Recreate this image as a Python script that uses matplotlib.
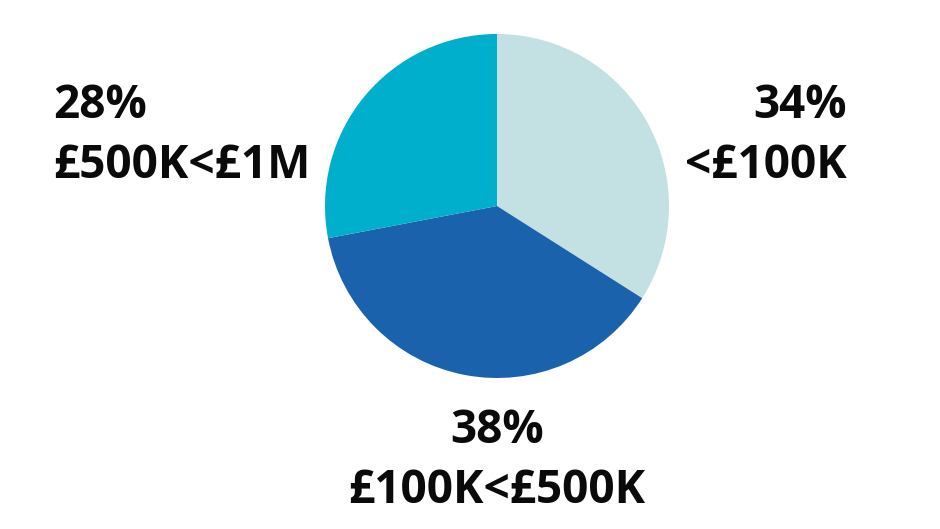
import matplotlib
matplotlib.use("Agg")
import matplotlib.pyplot as plt

categories = ["<£100K", "£100K<£500K", "£500K<£1M"]
values = [34, 38, 28]
colors = ["#C3E0E3", "#1B62AD", "#00AFCB"]

W, H = 940, 529
fig = plt.figure(figsize=(W / 100, H / 100), dpi=100)
ax = fig.add_axes([0, 0, 1, 1])

ax.pie(values, colors=colors, startangle=90, counterclock=False,
       center=(497, H - 206), radius=172, frame=True,
       wedgeprops=dict(linewidth=0))
ax.set_xlim(0, W)
ax.set_ylim(0, H)
ax.set_aspect("equal")
ax.axis("off")

font = dict(family=["Open Sans", "DejaVu Sans"], fontweight="bold", fontsize=33, color="#0a0a0a")

# label positions (pixel coords from top), alignments
lab = [
    (847, 118, 178, "right"),
    (497, 443, 503, "center"),
    (53, 118, 178, "left"),
]
for (x, y1, y2, ha), cat, v in zip(lab, categories, values):
    ax.text(x, H - y1, f"{v}%", ha=ha, va="baseline", **font)
    ax.text(x, H - y2, cat, ha=ha, va="baseline", **font)

fig.savefig("out.png", dpi=100)
